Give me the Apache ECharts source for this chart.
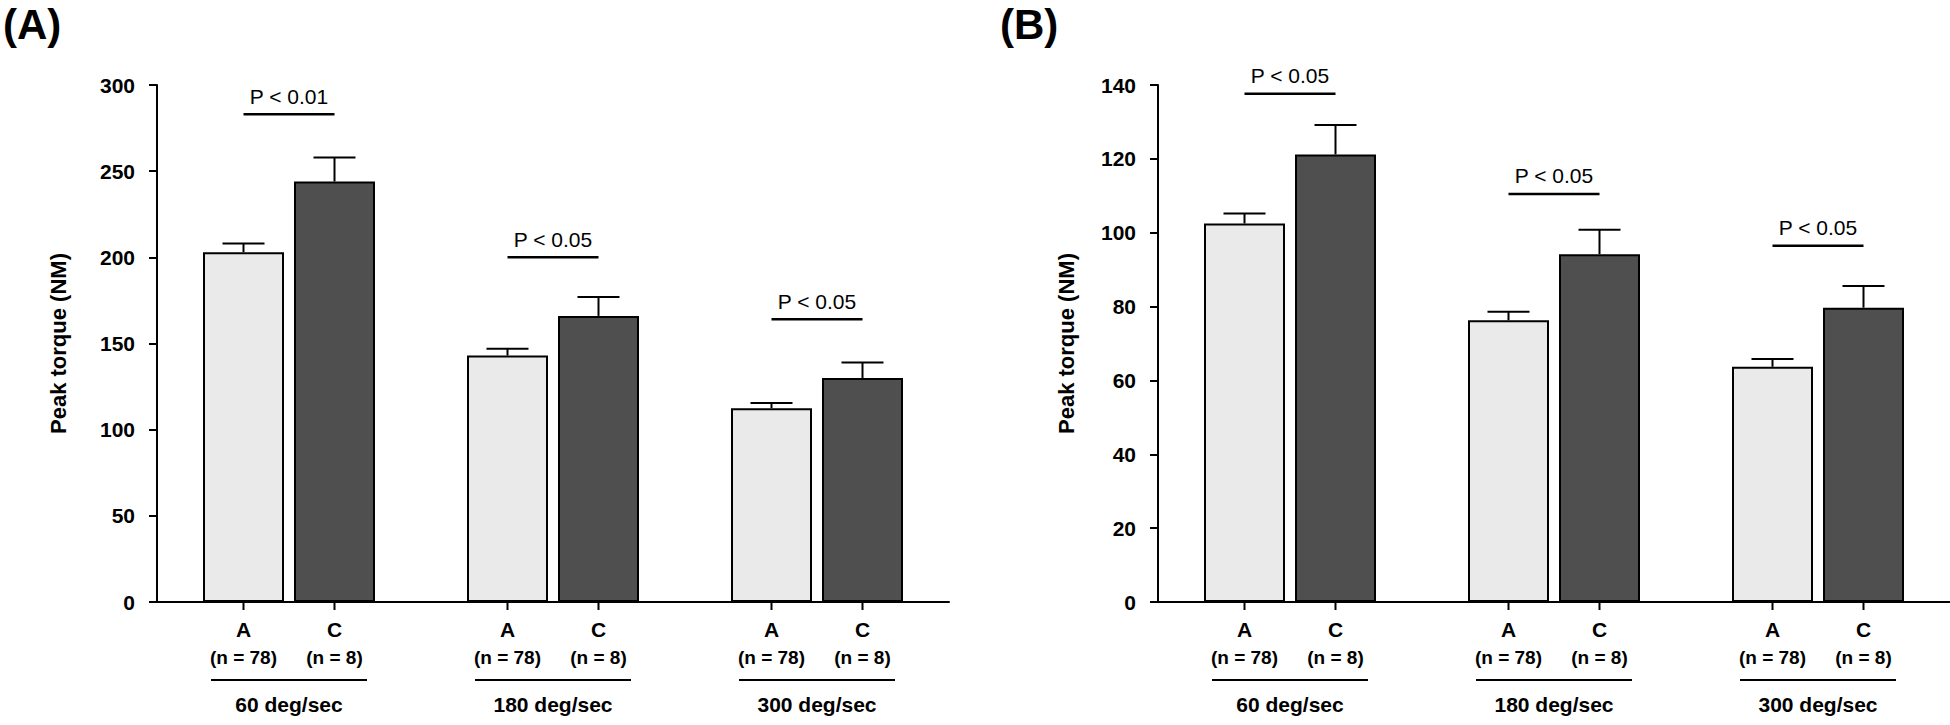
<!DOCTYPE html>
<html>
<head>
<meta charset="utf-8">
<script src="https://cdn.jsdelivr.net/npm/echarts@6/dist/echarts.min.js"></script>
<style>
  html, body { margin: 0; padding: 0; background: #fff; }
  #chart { width: 1950px; height: 725px; }
</style>
</head>
<body>
<div id="chart"></div>
<script>
// ---------------- data ----------------
const panelTitles = ['(A)', '(B)'];
const axisTitle = 'Peak torque (NM)';
const speeds = ['60 deg/sec', '180 deg/sec', '300 deg/sec'];
const groups = ['A', 'C'];
const groupSizes = ['(n = 78)', '(n = 8)'];

// Panel A
const aTicks = [0, 50, 100, 150, 200, 250, 300];
const aMeanA = [203, 143, 112.5];
const aErrA = [5, 4, 3];
const aMeanC = [244, 166, 130];
const aErrC = [14, 11, 9];
const aPLine = [283, 200, 164];
const aPText = ['P < 0.01', 'P < 0.05', 'P < 0.05'];

// Panel B
const bTicks = [0, 20, 40, 60, 80, 100, 120, 140];
const bMeanA = [102.5, 76.3, 63.7];
const bErrA = [2.7, 2.3, 2.1];
const bMeanC = [121.2, 94.2, 79.7];
const bErrC = [8, 6.6, 5.9];
const bPLine = [137.6, 110.5, 96.5];
const bPText = ['P < 0.05', 'P < 0.05', 'P < 0.05'];

// ---------------- style / layout ----------------
const FONT = 'Arial, "Liberation Sans", Helvetica, sans-serif';
const LIGHT = '#EAEAEA';
const DARK = '#4F4F4F';
const BAR_W = 81;
const BAR_GAP = 10;
const HALF = (BAR_W + BAR_GAP) / 2;   // offset of each bar centre from category centre
const CAP = 21;

const panels = [
  { ticks: aTicks, meanA: aMeanA, errA: aErrA, meanC: aMeanC, errC: aErrC, pLine: aPLine, pText: aPText,
    grid: { left: 157, top: 85, width: 792, height: 517 }, nameGap: 88 },
  { ticks: bTicks, meanA: bMeanA, errA: bErrA, meanC: bMeanC, errC: bErrC, pLine: bPLine, pText: bPText,
    grid: { left: 1158, top: 85, width: 792, height: 517 }, nameGap: 81 }
];

const grids = [], xAxes = [], yAxes = [], series = [];

panels.forEach((p, k) => {
  grids.push(p.grid);
  xAxes.push({
    type: 'category', gridIndex: k, data: speeds,
    axisLine: { show: true, lineStyle: { color: '#000', width: 2 } },
    axisTick: { show: false },
    axisLabel: { show: true, margin: 92, color: '#000', fontFamily: FONT, fontWeight: 'bold', fontSize: 21 },
    splitLine: { show: false }
  });
  const t = p.ticks;
  yAxes.push({
    type: 'value', gridIndex: k, min: t[0], max: t[t.length - 1], interval: t[1] - t[0],
    name: axisTitle, nameLocation: 'middle', nameRotate: 90, nameGap: p.nameGap,
    nameTextStyle: { color: '#000', fontFamily: FONT, fontWeight: 'bold', fontSize: 22 },
    axisLine: { show: true, lineStyle: { color: '#000', width: 2 } },
    axisTick: { show: true, length: 8, lineStyle: { color: '#000', width: 2 } },
    axisLabel: { margin: 22, color: '#000', fontFamily: FONT, fontWeight: 'bold', fontSize: 21 },
    splitLine: { show: false }
  });

  series.push({
    type: 'bar', name: groups[0], xAxisIndex: k, yAxisIndex: k, data: p.meanA,
    barWidth: BAR_W, barGap: (BAR_GAP / BAR_W * 100) + '%',
    itemStyle: { color: LIGHT, borderColor: '#000', borderWidth: 2 }, z: 2
  });
  series.push({
    type: 'bar', name: groups[1], xAxisIndex: k, yAxisIndex: k, data: p.meanC,
    barWidth: BAR_W, barGap: (BAR_GAP / BAR_W * 100) + '%',
    itemStyle: { color: DARK, borderColor: '#000', borderWidth: 2 }, z: 2
  });

  // error bars: [category, mean, err, side]
  const errData = [];
  p.meanA.forEach((m, i) => errData.push([i, m, p.errA[i], -1]));
  p.meanC.forEach((m, i) => errData.push([i, m, p.errC[i], 1]));
  series.push({
    type: 'custom', xAxisIndex: k, yAxisIndex: k, data: errData, z: 3, clip: false,
    renderItem: function (params, api) {
      const cat = api.value(0), m = api.value(1), e = api.value(2), side = api.value(3);
      const base = api.coord([cat, m]);
      const top = api.coord([cat, m + e]);
      const x = base[0] + side * HALF;
      const ls = { stroke: '#000', lineWidth: 2 };
      return { type: 'group', children: [
        { type: 'line', shape: { x1: x, y1: base[1], x2: x, y2: top[1] }, style: ls },
        { type: 'line', shape: { x1: x - CAP, y1: top[1], x2: x + CAP, y2: top[1] }, style: ls }
      ]};
    }
  });

  // significance brackets
  const sigData = p.pLine.map((v, i) => [i, v, p.pText[i]]);
  series.push({
    type: 'custom', xAxisIndex: k, yAxisIndex: k, data: sigData, z: 3, clip: false,
    dimensions: ['cat', 'val', 'txt'],
    renderItem: function (params, api) {
      const i = params.dataIndex;
      const pt = api.coord([sigData[i][0], sigData[i][1]]);
      return { type: 'group', children: [
        { type: 'line', shape: { x1: pt[0] - HALF, y1: pt[1], x2: pt[0] + HALF, y2: pt[1] },
          style: { stroke: '#000', lineWidth: 2.5 } },
        { type: 'text', style: { text: sigData[i][2], x: pt[0], y: pt[1] - 18,
          align: 'center', verticalAlign: 'middle', textAlign: 'center', textVerticalAlign: 'middle',
          font: '21px ' + FONT, fill: '#000' } }
      ]};
    }
  });

  // under-axis bar ticks, group labels and separator lines
  const catData = speeds.map((s, i) => [i, 0]);
  series.push({
    type: 'custom', xAxisIndex: k, yAxisIndex: k, data: catData, z: 3, clip: false,
    renderItem: function (params, api) {
      const c = api.coord([api.value(0), 0]);
      const y0 = c[1];
      const children = [];
      [-1, 1].forEach((side, j) => {
        const x = c[0] + side * HALF;
        children.push({ type: 'line', shape: { x1: x, y1: y0, x2: x, y2: y0 + 8 }, style: { stroke: '#000', lineWidth: 2 } });
        children.push({ type: 'text', style: { text: groups[j], x: x, y: y0 + 27,
          align: 'center', verticalAlign: 'middle', textAlign: 'center', textVerticalAlign: 'middle',
          font: 'bold 21px ' + FONT, fill: '#000' } });
        children.push({ type: 'text', style: { text: groupSizes[j], x: x, y: y0 + 55,
          align: 'center', verticalAlign: 'middle', textAlign: 'center', textVerticalAlign: 'middle',
          font: 'bold 19px ' + FONT, fill: '#000' } });
      });
      children.push({ type: 'line', shape: { x1: c[0] - 78, y1: y0 + 78, x2: c[0] + 78, y2: y0 + 78 },
        style: { stroke: '#000', lineWidth: 2 } });
      return { type: 'group', children: children };
    }
  });
});

const chart = echarts.init(document.getElementById('chart'), null, { renderer: 'svg' });
chart.setOption({
  backgroundColor: '#fff',
  animation: false,
  title: [
    { text: panelTitles[0], left: -2, top: -2, textStyle: { fontFamily: FONT, fontWeight: 'bold', fontSize: 42, color: '#000' } },
    { text: panelTitles[1], left: 995, top: -2, textStyle: { fontFamily: FONT, fontWeight: 'bold', fontSize: 42, color: '#000' } }
  ],
  grid: grids,
  xAxis: xAxes,
  yAxis: yAxes,
  series: series
});
</script>
</body>
</html>
